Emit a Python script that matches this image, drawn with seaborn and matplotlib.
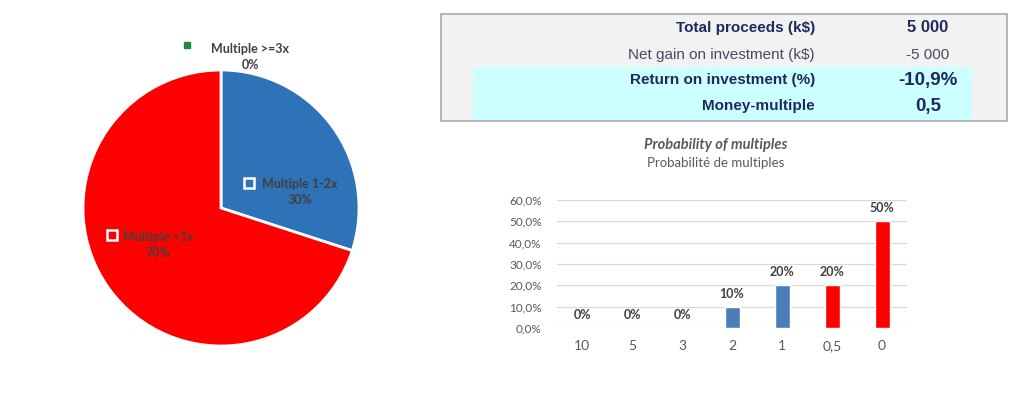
import matplotlib
matplotlib.use("Agg")
import matplotlib.pyplot as plt
import seaborn as sns
from matplotlib.patches import Rectangle

sns.set_style("white")
plt.rcParams['font.family'] = ['Lato', 'DejaVu Sans']

# Pie data (clockwise from top)
pie_labels = ["Multiple >=3x", "Multiple 1-2x", "Multiple <1x"]
pie_values = [0, 30, 70]
pie_colors = ["#1e8c3a", "#2e72b8", "#ff0000"]

# Summary table
table_labels = ["Total proceeds (k$)", "Net gain on investment (k$)",
                "Return on investment (%)", "Money-multiple"]
table_values = ["5 000", "-5 000", "-10,9%", "0,5"]

# Bar chart data
bar_cats = ["10", "5", "3", "2", "1", "0,5", "0"]
bar_probs = [0, 0, 0, 10, 20, 20, 50]
bar_colors = ["#4a7ebb"] * 5 + ["#ff0000"] * 2

fig = plt.figure(figsize=(10.24, 3.93), dpi=100)

# ---- Pie ----
ax_pie = fig.add_axes([83 / 1024, 1 - 346 / 393, 276 / 1024, 276 / 393])
ax_pie.pie(pie_values, colors=pie_colors, startangle=90, counterclock=False,
           radius=1, wedgeprops=dict(edgecolor="white", linewidth=2))
ax_pie.set_xlim(-1, 1)
ax_pie.set_ylim(-1, 1)
ax_pie.set_aspect("equal")
ax_pie.axis("off")


def px(x, y):
    return (x - 221) / 138, (208 - y) / 138


label_pos = [(250, 57, 187, 45), (300, 192, 249, 183), (158, 245, 112, 235)]
for lab, val, col, (tx, ty, mx, my) in zip(pie_labels, pie_values, pie_colors, label_pos):
    x, y = px(tx, ty)
    ax_pie.text(x, y, f"{lab}\n{val}%", ha="center", va="center", fontsize=9,
                fontweight="bold", color="#404040", linespacing=1.45, clip_on=False)
    x, y = px(mx, my)
    if val == 0:
        ax_pie.plot(x, y, marker="s", ms=4, color=col, clip_on=False)
    else:
        ax_pie.plot(x, y, marker="s", ms=7, mfc=col, mec="white", mew=1.8, clip_on=False)

# ---- Table ----
fig.patches.append(Rectangle((441 / 1024, 1 - 121 / 393), 566 / 1024, 107 / 393,
                             transform=fig.transFigure, facecolor="#f2f2f2",
                             edgecolor="#ababab", linewidth=1.2, zorder=0))
fig.patches.append(Rectangle((473 / 1024, 1 - 120 / 393), 499 / 1024, 53 / 393,
                             transform=fig.transFigure, facecolor="#ccffff",
                             edgecolor="none", zorder=1))
row_y = [28, 55, 80, 106]
lab_style = [("bold", 11), ("normal", 11), ("bold", 11), ("bold", 11)]
val_size = [12, 11, 13.5, 13.5]
for lab, val, yy, (w, s), vs in zip(table_labels, table_values, row_y, lab_style, val_size):
    col = "#1f2a5c" if w == "bold" else "#454a66"
    fig.text(815 / 1024, 1 - yy / 393, lab, ha="right", va="center", fontsize=s,
             fontweight=w, color=col, family="Liberation Sans")
    fig.text(928 / 1024, 1 - yy / 393, val, ha="center", va="center", fontsize=vs,
             fontweight=w, color=col, family="Liberation Sans")

# ---- Bar chart ----
ax = fig.add_axes([557 / 1024, 1 - 328 / 393, 350 / 1024, 128 / 393])
sns.barplot(x=bar_cats, y=bar_probs, hue=bar_cats, palette=bar_colors,
            legend=False, width=0.3, ax=ax, saturation=1)
ax.set_ylim(0, 60)
ax.set_xlim(-0.5, 6.5)
ax.set_yticks(range(0, 61, 10))
ax.set_yticklabels([f"{v},0%" for v in range(0, 61, 10)], fontsize=8.5, color="#595959")
ax.tick_params(axis="x", labelsize=10, colors="#595959", pad=9, length=0)
ax.tick_params(axis="y", pad=11, length=0)
ax.grid(axis="y", color="#d9d9d9", linewidth=0.9)
ax.set_axisbelow(True)
for sp in ax.spines.values():
    sp.set_visible(False)
for i, v in enumerate(bar_probs):
    ax.annotate(f"{v}%", (i, v), xytext=(0, 5), textcoords="offset points",
                ha="center", va="bottom", fontsize=9, fontweight="bold",
                color="#404040", annotation_clip=False)

fig.text(716 / 1024, 1 - 145 / 393, "Probability of multiples", ha="center", va="center",
         fontsize=10.5, fontweight="bold", style="italic", color="#595959")
fig.text(716 / 1024, 1 - 163 / 393, "Probabilité de multiples", ha="center", va="center",
         fontsize=9.5, color="#595959")

fig.savefig("out.png", dpi=100)
